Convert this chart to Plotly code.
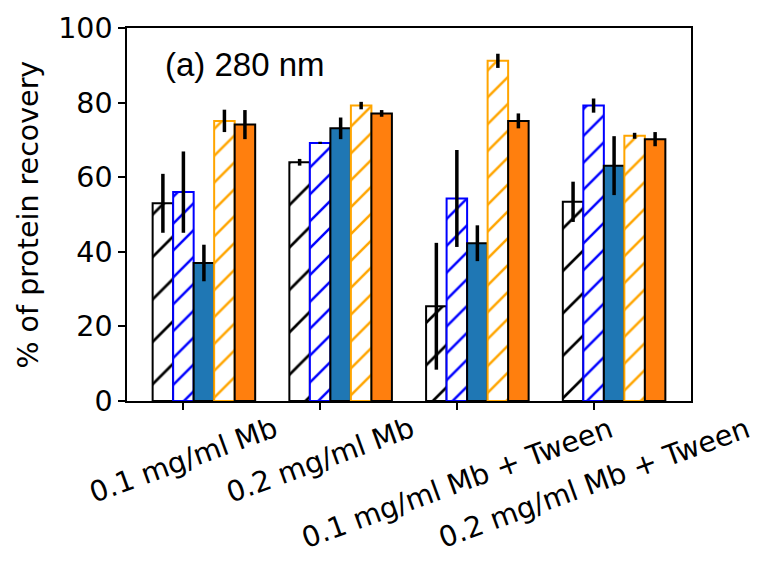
import plotly.graph_objects as go

categories = ["0.1 mg/ml Mb", "0.2 mg/ml Mb", "0.1 mg/ml Mb + Tween", "0.2 mg/ml Mb + Tween"]
series_names = ["A", "B", "C", "D", "E"]
vals_a = [53, 64, 25.4, 53.4]
err_a = [7.9, 0.9, 17, 5.4]
vals_b = [56, 69.2, 54.3, 79.2]
err_b = [10.9, 0.3, 13, 1.9]
vals_c = [37, 73.1, 42.3, 63.1]
err_c = [4.9, 2.9, 4.8, 7.9]
vals_d = [75.1, 79.2, 91.2, 71.1]
err_d = [3, 1, 1.9, 0.8]
vals_e = [74.1, 77.1, 75.1, 70.2]
err_e = [3.9, 0.9, 2, 1.9]
y_ticks = [0, 20, 40, 60, 80, 100]
panel_label = "(a) 280 nm"
y_title = "% of protein recovery"

FONT = "DejaVu Sans"
FS = 28.5
offsets = [-0.15, 0.0, 0.15, 0.30, 0.45]
bw = 0.15

styles = [
    dict(color="white", line="black", pattern=dict(shape="/", fgcolor="black", bgcolor="white", fgopacity=1, size=30, solidity=0.09)),
    dict(color="white", line="blue", pattern=dict(shape="/", fgcolor="blue", bgcolor="white", fgopacity=1, size=19, solidity=0.13)),
    dict(color="#1f77b4", line="black", pattern=None),
    dict(color="white", line="orange", pattern=dict(shape="/", fgcolor="orange", bgcolor="white", fgopacity=1, size=19, solidity=0.13)),
    dict(color="#ff7f0e", line="black", pattern=None),
]
all_vals = [vals_a, vals_b, vals_c, vals_d, vals_e]
all_errs = [err_a, err_b, err_c, err_d, err_e]

fig = go.Figure()
for k, (vals, errs, st) in enumerate(zip(all_vals, all_errs, styles)):
    marker = dict(color=st["color"], line=dict(color=st["line"], width=2))
    if st["pattern"] is not None:
        marker["pattern"] = st["pattern"]
    fig.add_trace(go.Bar(
        x=[i + offsets[k] for i in range(len(categories))],
        y=vals,
        width=bw,
        name=series_names[k],
        marker=marker,
        error_y=dict(type="data", array=errs, visible=True, color="black", thickness=3.5, width=0),
        showlegend=False,
    ))

for i, cat in enumerate(categories):
    fig.add_annotation(
        x=i, y=-0.022, xref="x", yref="paper",
        text=cat, textangle=-20, showarrow=False,
        xanchor="center", yanchor="top",
        font=dict(family=FONT, size=FS, color="black"),
    )

fig.add_annotation(
    x=0.064, y=0.903, xref="paper", yref="paper", text=panel_label,
    showarrow=False, xanchor="left", yanchor="middle",
    font=dict(family="Liberation Sans", size=33, color="black"),
)
fig.add_annotation(
    x=-0.1755, y=0.5, xref="paper", yref="paper", text=y_title,
    showarrow=False, xanchor="center", yanchor="middle", textangle=-90,
    font=dict(family=FONT, size=FS, color="black"),
)

fig.update_layout(
    width=762, height=569,
    margin=dict(l=127, r=71, t=20, b=168),
    barmode="overlay",
    plot_bgcolor="white", paper_bgcolor="white",
    font=dict(family=FONT, size=FS, color="black"),
    xaxis=dict(
        range=[-0.4125, 3.7125], tickvals=list(range(len(categories))),
        showticklabels=False, ticks="outside", ticklen=7, tickwidth=1.5, tickcolor="black",
        showline=True, linecolor="black", linewidth=1.5, mirror=True,
        showgrid=False, zeroline=False,
    ),
    yaxis=dict(
        range=[0, 100], tickvals=y_ticks, ticks="outside", ticklen=7, tickwidth=1.5,
        tickcolor="black", showline=True, linecolor="black", linewidth=1.5, mirror=True,
        showgrid=False, zeroline=False, tickfont=dict(family=FONT, size=FS, color="black"),
    ),
)

fig.write_html("out.html")
